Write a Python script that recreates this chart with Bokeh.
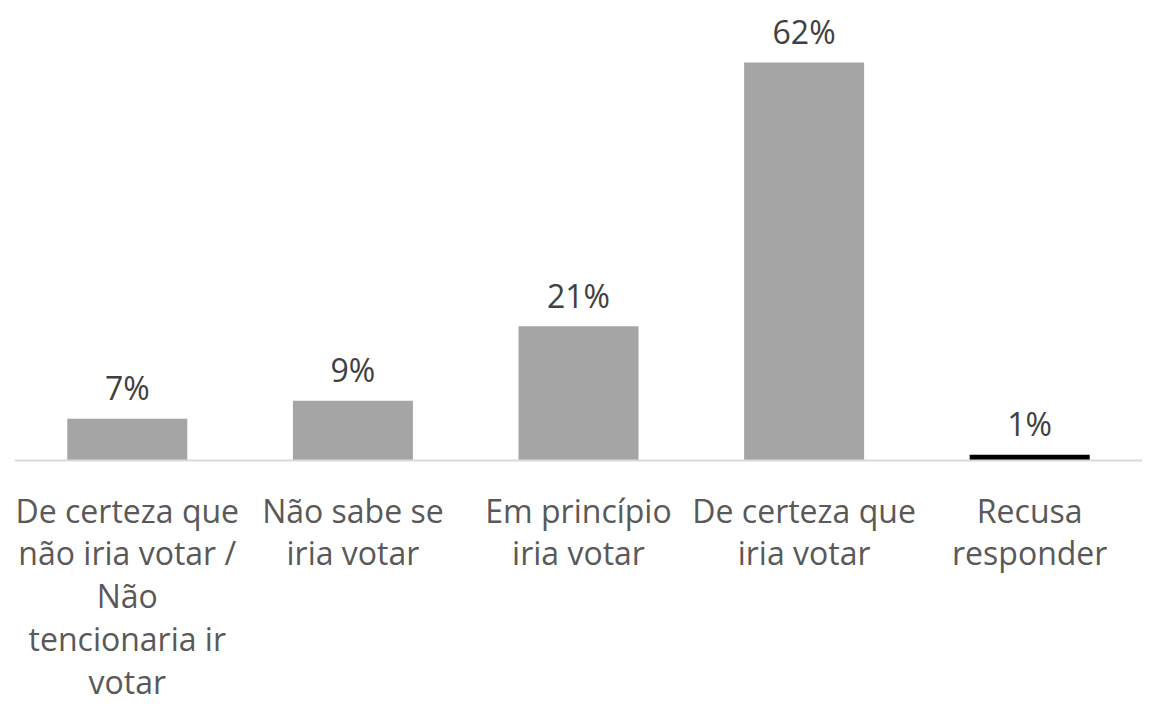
from bokeh.plotting import figure
from bokeh.models import FactorRange, Range1d, ColumnDataSource, Span
from bokeh.core.properties import value
from bokeh.embed import file_html
from bokeh.resources import INLINE

categories = ["De certeza que\nnão iria votar /\nNão\ntencionaria ir\nvotar",
              "Não sabe se\niria votar",
              "Em princípio\niria votar",
              "De certeza que\niria votar",
              "Recusa\nresponder"]
values = [6.5, 9.3, 20.9, 62.0, 0.9]
value_labels = ["7%", "9%", "21%", "62%", "1%"]
colors = ["#A5A5A5", "#A5A5A5", "#A5A5A5", "#A5A5A5", "#000000"]

src = ColumnDataSource(dict(cat=categories, val=values, lab=value_labels, col=colors,
                            zero=[0] * len(categories)))

p = figure(width=1150, height=704, output_backend="svg", toolbar_location=None,
           x_range=FactorRange(factors=categories, range_padding=0),
           y_range=Range1d(-38.01, 71.66),
           min_border_left=14, min_border_right=8, min_border_top=0, min_border_bottom=0)
p.axis.visible = False
p.grid.visible = False
p.outline_line_color = None

p.vbar(x="cat", top="val", width=0.532, fill_color="col", line_color=None, source=src)

p.add_layout(Span(location=0, dimension="width", line_color="#D9D9D9", line_width=2))

p.text(x="cat", y="val", text="lab", source=src, text_align="center", text_baseline="middle",
       y_offset=-31, text_font=value("Open Sans"), text_font_size="32px", text_color="#404040")

p.text(x="cat", y="zero", text="cat", source=src, text_align="center", text_baseline="top",
       y_offset=28, text_font=value("Open Sans"), text_font_size="32px", text_color="#595959",
       text_line_height=0.995)

open("out.html", "w").write(file_html(p, INLINE))
